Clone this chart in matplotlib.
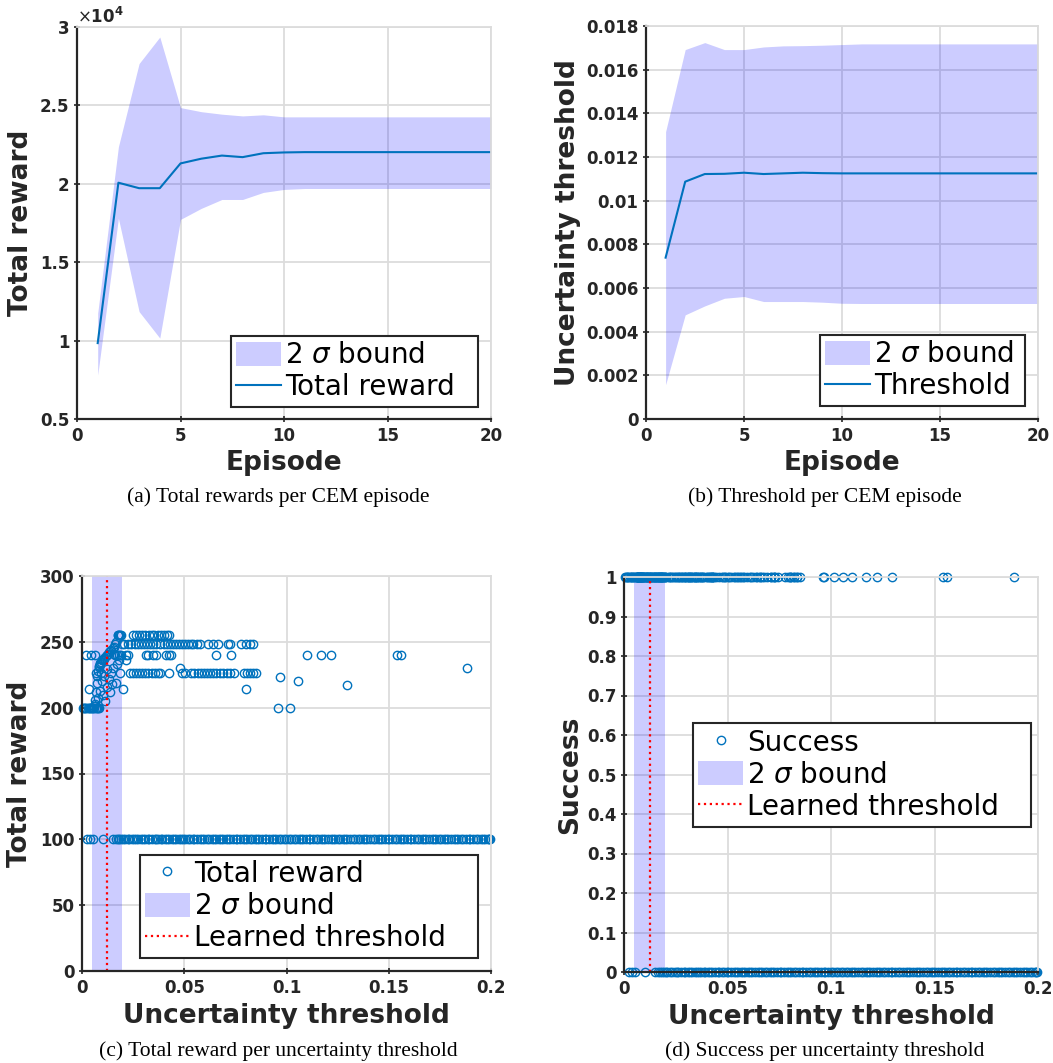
import numpy as np
import matplotlib

matplotlib.use("Agg")
import matplotlib.pyplot as plt  # noqa: E402
from matplotlib.ticker import FuncFormatter  # noqa: E402

# --- (a) Total reward per CEM episode (units of 1e4) -------------------------
episodes = list(range(1, 21))
reward_mean = [0.984, 2.007, 1.972, 1.972, 2.130, 2.160, 2.180, 2.170, 2.195, 2.200,
               2.202, 2.202, 2.202, 2.202, 2.202, 2.202, 2.202, 2.202, 2.202, 2.202]
reward_upper = [1.175, 2.236, 2.767, 2.936, 2.486, 2.460, 2.444, 2.433, 2.440, 2.427,
                2.427, 2.427, 2.427, 2.427, 2.427, 2.427, 2.427, 2.427, 2.427, 2.427]
reward_lower = [0.780, 1.780, 1.185, 1.016, 1.773, 1.843, 1.900, 1.900, 1.945, 1.964,
                1.970, 1.970, 1.970, 1.970, 1.970, 1.970, 1.970, 1.970, 1.970, 1.970]

# --- (b) Threshold per CEM episode ------------------------------------------
thr_mean = [0.00739, 0.01087, 0.01122, 0.01123, 0.01128, 0.01122, 0.01125, 0.01128,
            0.01126, 0.01125, 0.01125, 0.01125, 0.01125, 0.01125, 0.01125, 0.01125,
            0.01125, 0.01125, 0.01125, 0.01125]
thr_upper = [0.01316, 0.01692, 0.01724, 0.01692, 0.01692, 0.01704, 0.01709, 0.01710,
             0.01712, 0.01715, 0.01718, 0.01718, 0.01718, 0.01718, 0.01718, 0.01718,
             0.01718, 0.01718, 0.01718, 0.01718]
thr_lower = [0.00157, 0.00477, 0.00518, 0.00553, 0.00561, 0.00538, 0.00538, 0.00538,
             0.00535, 0.00530, 0.00529, 0.00529, 0.00529, 0.00529, 0.00529, 0.00529,
             0.00529, 0.00529, 0.00529, 0.00529]

# --- (c)/(d) rollouts: uncertainty threshold (x1e-3) and total reward --------
x_r255 = [17.4, 17.8, 18.2, 18.6, 19.0, 25.0, 26.4, 27.9, 29.5, 31.0, 32.6, 34.1,
          35.4, 37.0, 38.6, 40.1, 41.6, 42.6]
x_r248 = [19.6, 20.5, 22.5, 24.0, 25.9, 27.6, 28.9, 30.1, 31.6, 33.2, 34.5, 36.0,
          37.9, 40.0, 41.4, 43.0, 44.5, 46.1, 47.4, 48.9, 50.2, 51.6, 53.1, 54.4,
          56.0, 57.6, 61.4, 64.3, 66.6, 71.2, 72.4, 77.6, 80.4, 82.1, 83.4]
x_r240 = [1.8, 4.6, 6.5, 16.0, 17.0, 18.0, 19.3, 21.7, 22.6, 31.4, 32.4, 34.7,
          36.4, 41.3, 42.5, 43.7, 65.7, 72.8, 110.2, 117.0, 122.0, 154.0, 156.2]
x_r226 = [18.5, 23.5, 25.0, 26.4, 28.0, 29.5, 31.0, 32.5, 34.0, 35.5, 37.0, 38.1,
          42.6, 48.9, 50.6, 53.4, 55.0, 56.5, 58.0, 59.6, 61.0, 62.5, 64.0, 65.5,
          67.4, 69.0, 71.1, 72.5, 74.4, 79.0, 80.6, 82.0, 83.4, 85.1]
x_r200 = [0.4, 0.9, 1.6, 2.1, 2.7, 3.2, 3.9, 4.3, 5.0, 5.6, 6.1, 6.8, 7.3, 7.9,
          8.4, 95.9, 101.6]
x_misc = [3.4, 20.0, 21.7, 47.8, 80.4, 96.8, 105.7, 129.4, 188.4]
r_misc = [214, 214, 236, 230, 214, 223, 220, 217, 230]
x_rise = [5.8, 6.2, 6.6, 6.9, 7.2, 7.5, 7.8, 8.1, 8.4, 8.7, 9.0, 9.4, 9.8, 10.2,
          10.6, 11.0, 11.5, 12.0, 12.6, 13.2, 13.8, 14.4, 15.0, 15.6, 16.2, 16.8,
          8.0, 8.8, 9.6, 10.4, 11.2, 12.2, 13.0, 13.6, 14.2, 15.2, 16.4, 17.2, 18.0,
          7.0, 9.2, 10.9, 12.4, 14.8, 15.8]
r_rise = [201, 203, 206, 212, 219, 224, 228, 231, 232, 233, 234, 235, 236, 236,
          237, 238, 239, 240, 241, 242, 243, 244, 245, 246, 248, 250,
          207, 213, 220, 210, 205, 216, 222, 212, 226, 230, 219, 233, 236,
          226, 226, 224, 229, 218, 241]
x_fail = [2.4, 3.8, 5.4, 10.3, 15.2, 16.5, 17.4, 18.3, 19.1, 20.2, 21.0, 22.3,
          23.1, 24.4, 25.6, 26.3, 27.5, 28.8, 29.6, 30.9, 32.1, 33.0, 34.2, 35.5,
          36.1, 37.4, 38.6, 39.3, 40.8, 41.5, 42.7, 43.9, 45.2, 46.0, 47.3, 48.5,
          49.6, 50.4, 51.8, 52.9, 54.1, 55.0, 56.3, 57.7, 58.5, 59.8, 61.1, 62.0,
          63.4, 64.6, 65.5, 66.9, 68.2, 69.0, 70.4, 71.6, 72.5, 73.9, 75.2, 76.0,
          77.4, 78.7, 79.5, 80.9, 82.2, 83.0, 84.5, 85.8, 86.6, 88.0, 89.3, 90.1,
          91.6, 92.8, 93.7, 95.1, 96.4, 97.2, 98.7, 99.9, 101.0, 102.3, 103.5,
          104.6, 105.9, 107.1, 108.2, 109.6, 110.8, 111.7, 113.1, 114.4, 115.3,
          116.7, 118.0, 118.9, 120.3, 121.6, 122.5, 123.9, 125.2, 126.1, 127.5,
          128.8, 129.7, 131.1, 132.4, 133.3, 134.8, 136.0, 137.2, 138.4, 139.6,
          140.9, 142.1, 143.2, 144.5, 145.8, 146.7, 148.1, 149.4, 150.3, 151.7,
          153.0, 153.9, 155.3, 156.6, 157.5, 158.9, 160.2, 161.1, 162.5, 163.8,
          164.7, 166.1, 167.4, 168.3, 169.7, 171.0, 171.9, 173.3, 174.6, 175.5,
          176.9, 178.2, 179.1, 180.5, 181.8, 182.7, 184.1, 185.4, 186.3, 187.7,
          189.0, 189.9, 191.3, 192.6, 193.5, 194.9, 196.2, 197.1, 198.4, 199.1, 199.6]

band_lo, band_hi = 0.0050, 0.0197
learned_thr = 0.0124

BLUE = "#0072BD"
BAND = (0.0, 0.0, 1.0, 0.2)
INK = "#262626"
GRID = "#dcdcdc"
W, H = 1053, 1063

plt.rcParams["font.family"] = "DejaVu Sans"
plt.rcParams["mathtext.fontset"] = "dejavusans"


def px_axes(fig, left, top, right, bottom):
    return fig.add_axes([left / W, 1 - bottom / H, (right - left) / W, (bottom - top) / H])


def style(ax, xlabel, ylabel, ylab_x, xlab_y):
    ax.grid(True, color=GRID, linewidth=1.3)
    ax.set_axisbelow(True)
    for side in ("left", "bottom"):
        ax.spines[side].set_color(INK)
        ax.spines[side].set_linewidth(1.6)
    for side in ("top", "right"):
        ax.spines[side].set_color(GRID)
        ax.spines[side].set_linewidth(1.3)
    ax.tick_params(direction="inout", length=5, width=1.2, color=INK,
                   labelsize=12, labelcolor=INK, pad=3)
    ax.xaxis.set_major_formatter(FuncFormatter(lambda v, p: f"{v:g}"))
    ax.yaxis.set_major_formatter(FuncFormatter(lambda v, p: f"{v:g}"))
    ax.set_xlabel(xlabel, fontsize=19, fontweight="bold", color=INK)
    ax.set_ylabel(ylabel, fontsize=19, fontweight="bold", color=INK)
    ax.yaxis.set_label_coords(ylab_x, 0.5)
    ax.xaxis.set_label_coords(0.5, xlab_y)
    for lab in ax.get_xticklabels() + ax.get_yticklabels():
        lab.set_fontweight("bold")


def legend(ax, **kw):
    leg = ax.legend(fontsize=20, frameon=True, fancybox=False, framealpha=1,
                    edgecolor=INK, borderpad=0.2, handletextpad=0.15,
                    handlelength=1.6, handleheight=0.95, labelspacing=0.15,
                    borderaxespad=0, numpoints=1, **kw)
    leg.get_frame().set_linewidth(1.5)
    return leg


fig = plt.figure(figsize=(W / 100, H / 100), dpi=100)

# (a)
ax = px_axes(fig, 77, 27, 491, 419)
ax.fill_between(episodes, reward_lower, reward_upper, color=BAND, linewidth=0,
                label=r"2 $\sigma$ bound")
ax.plot(episodes, reward_mean, color=BLUE, linewidth=1.5, label="Total reward  ")
ax.set_xlim(0, 20)
ax.set_ylim(0.5, 3)
ax.set_xticks([0, 5, 10, 15, 20])
ax.set_yticks([0.5, 1, 1.5, 2, 2.5, 3])
style(ax, "Episode", "Total reward", -0.104, -0.08)
ax.text(0.0, 1.01, r"$\times\mathbf{10^4}$", transform=ax.transAxes,
        fontsize=12, color=INK, ha="left", va="baseline")
legend(ax, loc="lower right", bbox_to_anchor=(0.969, 0.031))

# (b)
ax = px_axes(fig, 646, 26, 1038, 419)
ax.fill_between(episodes, thr_lower, thr_upper, color=BAND, linewidth=0,
                label=r"2 $\sigma$ bound")
ax.plot(episodes, thr_mean, color=BLUE, linewidth=1.5, label="Threshold ")
ax.set_xlim(0, 20)
ax.set_ylim(0, 0.018)
ax.set_xticks([0, 5, 10, 15, 20])
ax.set_yticks(np.arange(0, 0.0181, 0.002))
style(ax, "Episode", "Uncertainty threshold", -0.166, -0.08)
legend(ax, loc="lower right", bbox_to_anchor=(0.967, 0.033))

# collect rollout points
high_x = np.array(x_r255 + x_r248 + x_r240 + x_r226 + x_r200 + x_misc + x_rise) / 1000
high_r = np.array([255] * len(x_r255) + [248] * len(x_r248) + [240] * len(x_r240)
                  + [226] * len(x_r226) + [200] * len(x_r200) + r_misc + r_rise)
fail_x = np.array(x_fail) / 1000

# (c)
ax = px_axes(fig, 82, 576, 491, 971)
ax.plot(np.concatenate([high_x, fail_x]),
        np.concatenate([high_r, np.full(len(fail_x), 100)]),
        linestyle="none", marker="o", markersize=6, markerfacecolor="none",
        markeredgecolor=BLUE, markeredgewidth=1.0, clip_on=False, label="Total reward")
ax.axvspan(band_lo, band_hi, color=BAND, linewidth=0, label=r"2 $\sigma$ bound")
ax.plot([learned_thr, learned_thr], [0, 300], color="red", linestyle=":",
        linewidth=1.6, label="Learned threshold   ")
ax.set_xlim(0, 0.2)
ax.set_ylim(0, 300)
ax.set_xticks([0, 0.05, 0.1, 0.15, 0.2])
ax.set_yticks(range(0, 301, 50))
style(ax, "Uncertainty threshold", "Total reward", -0.12, -0.08)
legend(ax, loc="lower right", bbox_to_anchor=(0.968, 0.033))

# (d)
ax = px_axes(fig, 624, 577, 1038, 972)
ax.plot(np.concatenate([high_x, fail_x]),
        np.concatenate([np.ones(len(high_x)), np.zeros(len(fail_x))]),
        linestyle="none", marker="o", markersize=6, markerfacecolor="none",
        markeredgecolor=BLUE, markeredgewidth=1.0, clip_on=False, label="Success")
ax.axvspan(band_lo, band_hi, color=BAND, linewidth=0, label=r"2 $\sigma$ bound")
ax.plot([learned_thr, learned_thr], [0, 1], color="red", linestyle=":",
        linewidth=1.6, label="Learned threshold   ")
ax.set_xlim(0, 0.2)
ax.set_ylim(0, 1)
ax.set_xticks([0, 0.05, 0.1, 0.15, 0.2])
ax.set_yticks(np.arange(0, 1.01, 0.1))
style(ax, "Uncertainty threshold", "Success", -0.099, -0.08)
legend(ax, loc="upper right", bbox_to_anchor=(0.983, 0.63))

# captions
cap = dict(fontsize=15.5, family="Liberation Serif", ha="center", va="center", color="black")
fig.text(278 / W, 1 - 497 / H, "(a) Total rewards per CEM episode", **cap)
fig.text(825 / W, 1 - 497 / H, "(b) Threshold per CEM episode", **cap)
fig.text(278 / W, 1 - 1051 / H, "(c) Total reward per uncertainty threshold", **cap)
fig.text(825 / W, 1 - 1051 / H, "(d) Success per uncertainty threshold", **cap)

fig.savefig("out.png", dpi=100)
